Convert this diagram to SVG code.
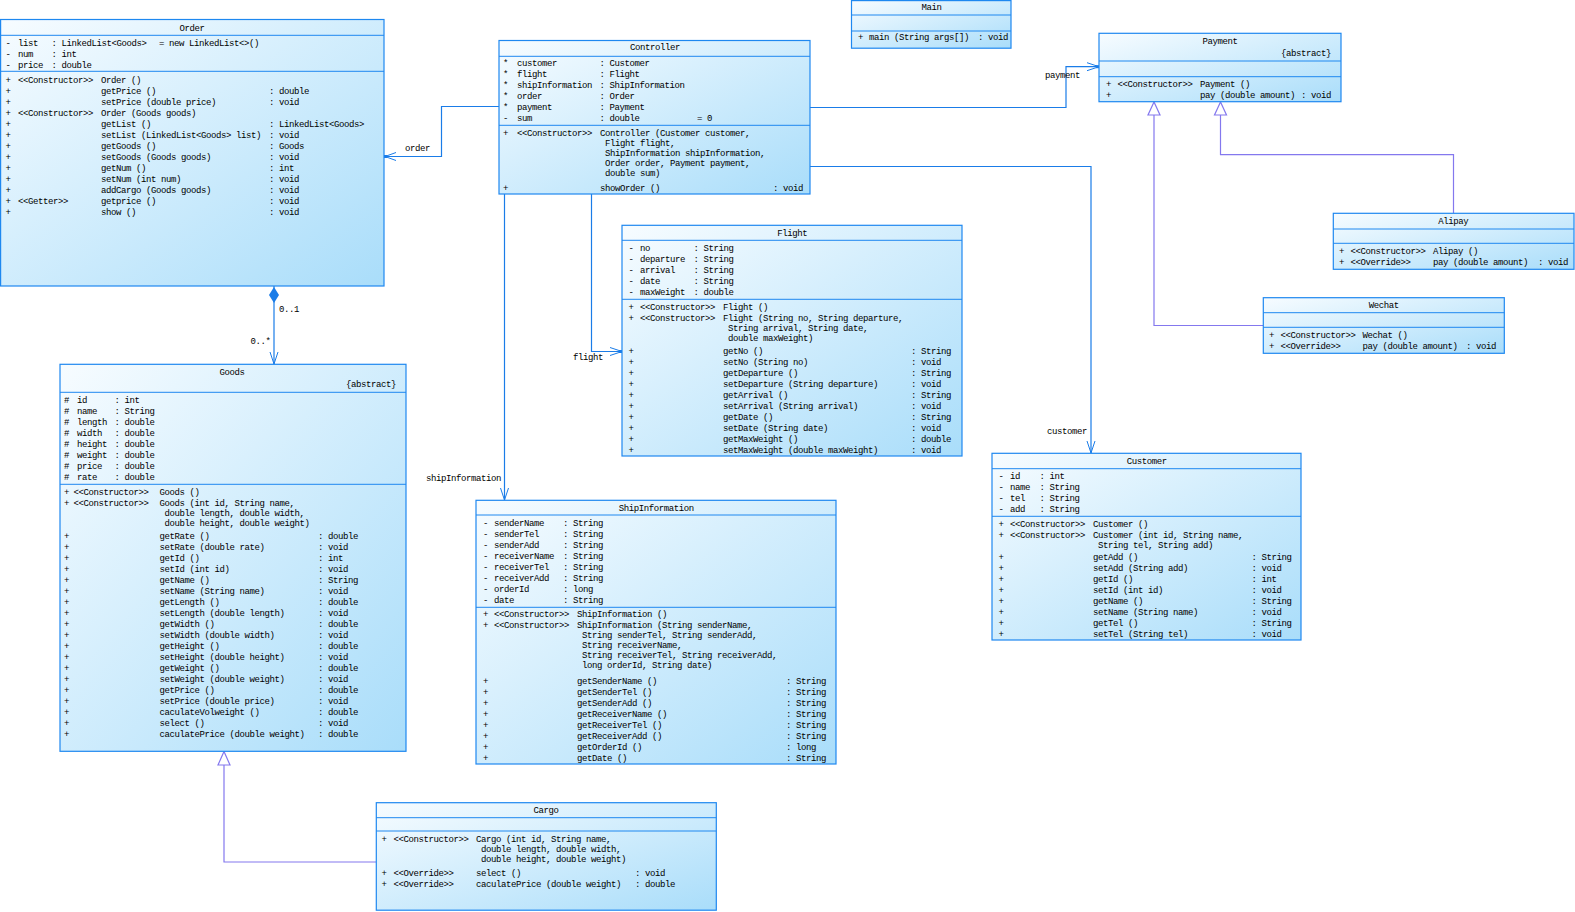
<svg xmlns="http://www.w3.org/2000/svg" width="1575" height="912" viewBox="0 0 1575 912">
<defs>
<linearGradient id="g" x1="0" y1="0" x2="1" y2="1">
<stop offset="0" stop-color="#f7fcff"/>
<stop offset="1" stop-color="#a9ddfa"/>
</linearGradient>
</defs>
<style>
text{font-family:"Liberation Mono","DejaVu Sans Mono",monospace;font-size:9px;letter-spacing:-0.4px;fill:#000}
.c{text-anchor:middle}
.e{text-anchor:end}
.box{stroke:#1e88f0;stroke-width:1.2;fill:url(#g)}
.sep{stroke:#1e88f0;stroke-width:1}
.as{stroke:#1a7ce8;stroke-width:1.2;fill:none}
.ah{stroke:#1a7ce8;stroke-width:1;fill:none}
.gen{stroke:#8478ee;stroke-width:1.2;fill:none}
.tri{stroke:#8478ee;stroke-width:1.2;fill:#fff}
.dot{fill:#1a7ce8}
</style>
<rect width="1575" height="912" fill="#fff"/>

<g id="connectors">
<polyline class="as" points="499,106.5 441.5,106.5 441.5,156.5 385,156.5"/>
<polyline class="ah" points="396,152.5 385,156.5 396,160.5"/>
<rect class="dot" x="384" y="155" width="3" height="3"/>
<text x="405" y="151">order</text>

<line class="as" x1="274" y1="286" x2="274" y2="364"/>
<polygon class="dot" points="274,287 279,295 274,303 269,295"/>
<polyline class="ah" points="270,352 274,364 278,352"/>
<text x="279" y="312">0..1</text>
<text x="250.5" y="344">0..*</text>

<polyline class="as" points="591.5,194 591.5,351.5 622,351.5"/>
<polyline class="ah" points="610,347.5 622,351.5 610,355.5"/>
<rect class="dot" x="619" y="350" width="3" height="3"/>
<text x="573" y="360">flight</text>

<line class="as" x1="504.5" y1="194" x2="504.5" y2="500"/>
<polyline class="ah" points="500.5,488 504.5,500 508.5,488"/>
<text x="426" y="481">shipInformation</text>

<polyline class="as" points="810,166.5 1091,166.5 1091,453"/>
<polyline class="ah" points="1087,441 1091,453 1095,441"/>
<text x="1047" y="434">customer</text>

<polyline class="as" points="810,107.5 1066,107.5 1066,66.7 1099,66.7"/>
<polyline class="ah" points="1087,62.7 1099,66.7 1087,70.7"/>
<rect class="dot" x="1096" y="65.2" width="3" height="3"/>
<text x="1045" y="78">payment</text>

<polyline class="gen" points="1453.5,213 1453.5,154.7 1220.5,154.7 1220.5,115"/>
<polygon class="tri" points="1220.5,102 1214.5,115 1226.5,115"/>
<polyline class="gen" points="1263,325.5 1154,325.5 1154,115"/>
<polygon class="tri" points="1154,102 1148,115 1160,115"/>
<polyline class="gen" points="376,862 224,862 224,765"/>
<polygon class="tri" points="224,751.5 218,765 230,765"/>
</g>

<g id="Order">
<rect class="box" x="0.6" y="19.5" width="383.4" height="266.5"/>
<line class="sep" x1="0.6" y1="35.3" x2="384" y2="35.3"/>
<line class="sep" x1="0.6" y1="71.3" x2="384" y2="71.3"/>
<text class="c" x="192" y="31">Order</text>
<text x="5.5" y="45.7">-</text><text x="18" y="45.7">list</text><text x="51.5" y="45.7">: LinkedList&lt;Goods&gt;</text><text x="159" y="45.7">= new LinkedList&lt;&gt;()</text>
<text x="5.5" y="56.7">-</text><text x="18" y="56.7">num</text><text x="51.5" y="56.7">: int</text>
<text x="5.5" y="67.7">-</text><text x="18" y="67.7">price</text><text x="51.5" y="67.7">: double</text>
<text x="5.5" y="82.7">+</text><text x="18" y="82.7">&lt;&lt;Constructor&gt;&gt;</text><text x="101" y="82.7">Order ()</text>
<text x="5.5" y="93.7">+</text><text x="101" y="93.7">getPrice ()</text><text x="269" y="93.7">: double</text>
<text x="5.5" y="104.7">+</text><text x="101" y="104.7">setPrice (double price)</text><text x="269" y="104.7">: void</text>
<text x="5.5" y="115.7">+</text><text x="18" y="115.7">&lt;&lt;Constructor&gt;&gt;</text><text x="101" y="115.7">Order (Goods goods)</text>
<text x="5.5" y="126.7">+</text><text x="101" y="126.7">getList ()</text><text x="269" y="126.7">: LinkedList&lt;Goods&gt;</text>
<text x="5.5" y="137.7">+</text><text x="101" y="137.7">setList (LinkedList&lt;Goods&gt; list)</text><text x="269" y="137.7">: void</text>
<text x="5.5" y="148.7">+</text><text x="101" y="148.7">getGoods ()</text><text x="269" y="148.7">: Goods</text>
<text x="5.5" y="159.7">+</text><text x="101" y="159.7">setGoods (Goods goods)</text><text x="269" y="159.7">: void</text>
<text x="5.5" y="170.7">+</text><text x="101" y="170.7">getNum ()</text><text x="269" y="170.7">: int</text>
<text x="5.5" y="181.7">+</text><text x="101" y="181.7">setNum (int num)</text><text x="269" y="181.7">: void</text>
<text x="5.5" y="192.7">+</text><text x="101" y="192.7">addCargo (Goods goods)</text><text x="269" y="192.7">: void</text>
<text x="5.5" y="203.7">+</text><text x="18" y="203.7">&lt;&lt;Getter&gt;&gt;</text><text x="101" y="203.7">getprice ()</text><text x="269" y="203.7">: void</text>
<text x="5.5" y="214.7">+</text><text x="101" y="214.7">show ()</text><text x="269" y="214.7">: void</text>
</g>

<g id="Controller">
<rect class="box" x="499" y="40.5" width="311" height="153.5"/>
<line class="sep" x1="499" y1="56.3" x2="810" y2="56.3"/>
<line class="sep" x1="499" y1="125.3" x2="810" y2="125.3"/>
<text class="c" x="655" y="50.3">Controller</text>
<text x="503" y="65.7">*</text><text x="517" y="65.7">customer</text><text x="599.5" y="65.7">: Customer</text>
<text x="503" y="76.7">*</text><text x="517" y="76.7">flight</text><text x="599.5" y="76.7">: Flight</text>
<text x="503" y="87.7">*</text><text x="517" y="87.7">shipInformation</text><text x="599.5" y="87.7">: ShipInformation</text>
<text x="503" y="98.7">*</text><text x="517" y="98.7">order</text><text x="599.5" y="98.7">: Order</text>
<text x="503" y="109.7">*</text><text x="517" y="109.7">payment</text><text x="599.5" y="109.7">: Payment</text>
<text x="503" y="120.7">-</text><text x="517" y="120.7">sum</text><text x="599.5" y="120.7">: double</text><text x="697" y="120.7">= 0</text>
<text x="503" y="136">+</text><text x="517" y="136">&lt;&lt;Constructor&gt;&gt;</text><text x="600" y="136">Controller (Customer customer,</text>
<text x="605" y="146">Flight flight,</text>
<text x="605" y="156">ShipInformation shipInformation,</text>
<text x="605" y="166">Order order, Payment payment,</text>
<text x="605" y="176">double sum)</text>
<text x="503" y="191">+</text><text x="600" y="191">showOrder ()</text><text x="773" y="191">: void</text>
</g>

<g id="Main">
<rect class="box" x="851.5" y="0.6" width="159.5" height="47.6"/>
<line class="sep" x1="851.5" y1="15" x2="1011" y2="15"/>
<line class="sep" x1="851.5" y1="31" x2="1011" y2="31"/>
<text class="c" x="931.5" y="10.3">Main</text>
<text x="858" y="40.3">+</text><text x="869" y="40.3">main (String args[])</text><text x="978" y="40.3">: void</text>
</g>

<g id="Payment">
<rect class="box" x="1099" y="33.3" width="242" height="68.4"/>
<line class="sep" x1="1099" y1="61" x2="1341" y2="61"/>
<line class="sep" x1="1099" y1="76.7" x2="1341" y2="76.7"/>
<text class="c" x="1220" y="43.7">Payment</text>
<text class="e" x="1331" y="56.3">{abstract}</text>
<text x="1106" y="86.7">+</text><text x="1117.5" y="86.7">&lt;&lt;Constructor&gt;&gt;</text><text x="1200" y="86.7">Payment ()</text>
<text x="1106" y="97.7">+</text><text x="1200" y="97.7">pay (double amount)</text><text x="1301" y="97.7">: void</text>
</g>

<g id="Alipay">
<rect class="box" x="1333.3" y="213.3" width="240.7" height="56"/>
<line class="sep" x1="1333.3" y1="229" x2="1574" y2="229"/>
<line class="sep" x1="1333.3" y1="243.3" x2="1574" y2="243.3"/>
<text class="c" x="1453.3" y="223.7">Alipay</text>
<text x="1339" y="254">+</text><text x="1350.5" y="254">&lt;&lt;Constructor&gt;&gt;</text><text x="1433" y="254">Alipay ()</text>
<text x="1339" y="265">+</text><text x="1350.5" y="265">&lt;&lt;Override&gt;&gt;</text><text x="1433" y="265">pay (double amount)</text><text x="1538" y="265">: void</text>
</g>

<g id="Wechat">
<rect class="box" x="1263.3" y="297.7" width="241" height="55.6"/>
<line class="sep" x1="1263.3" y1="312.7" x2="1504.3" y2="312.7"/>
<line class="sep" x1="1263.3" y1="327.3" x2="1504.3" y2="327.3"/>
<text class="c" x="1383.7" y="308">Wechat</text>
<text x="1269" y="338">+</text><text x="1280.5" y="338">&lt;&lt;Constructor&gt;&gt;</text><text x="1362.5" y="338">Wechat ()</text>
<text x="1269" y="349">+</text><text x="1280.5" y="349">&lt;&lt;Override&gt;&gt;</text><text x="1362.5" y="349">pay (double amount)</text><text x="1466" y="349">: void</text>
</g>

<g id="Flight">
<rect class="box" x="622" y="225.3" width="340" height="230.7"/>
<line class="sep" x1="622" y1="240.3" x2="962" y2="240.3"/>
<line class="sep" x1="622" y1="299.3" x2="962" y2="299.3"/>
<text class="c" x="792.3" y="235.7">Flight</text>
<text x="628.5" y="250.7">-</text><text x="640" y="250.7">no</text><text x="693.5" y="250.7">: String</text>
<text x="628.5" y="261.7">-</text><text x="640" y="261.7">departure</text><text x="693.5" y="261.7">: String</text>
<text x="628.5" y="272.7">-</text><text x="640" y="272.7">arrival</text><text x="693.5" y="272.7">: String</text>
<text x="628.5" y="283.7">-</text><text x="640" y="283.7">date</text><text x="693.5" y="283.7">: String</text>
<text x="628.5" y="294.7">-</text><text x="640" y="294.7">maxWeight</text><text x="693.5" y="294.7">: double</text>
<text x="628.5" y="309.7">+</text><text x="640" y="309.7">&lt;&lt;Constructor&gt;&gt;</text><text x="723" y="309.7">Flight ()</text>
<text x="628.5" y="320.7">+</text><text x="640" y="320.7">&lt;&lt;Constructor&gt;&gt;</text><text x="723" y="320.7">Flight (String no, String departure,</text>
<text x="728" y="331">String arrival, String date,</text>
<text x="728" y="341">double maxWeight)</text>
<text x="628.5" y="353.7">+</text><text x="723" y="353.7">getNo ()</text><text x="911" y="353.7">: String</text>
<text x="628.5" y="364.7">+</text><text x="723" y="364.7">setNo (String no)</text><text x="911" y="364.7">: void</text>
<text x="628.5" y="375.7">+</text><text x="723" y="375.7">getDeparture ()</text><text x="911" y="375.7">: String</text>
<text x="628.5" y="386.7">+</text><text x="723" y="386.7">setDeparture (String departure)</text><text x="911" y="386.7">: void</text>
<text x="628.5" y="397.7">+</text><text x="723" y="397.7">getArrival ()</text><text x="911" y="397.7">: String</text>
<text x="628.5" y="408.7">+</text><text x="723" y="408.7">setArrival (String arrival)</text><text x="911" y="408.7">: void</text>
<text x="628.5" y="419.7">+</text><text x="723" y="419.7">getDate ()</text><text x="911" y="419.7">: String</text>
<text x="628.5" y="430.7">+</text><text x="723" y="430.7">setDate (String date)</text><text x="911" y="430.7">: void</text>
<text x="628.5" y="441.7">+</text><text x="723" y="441.7">getMaxWeight ()</text><text x="911" y="441.7">: double</text>
<text x="628.5" y="452.7">+</text><text x="723" y="452.7">setMaxWeight (double maxWeight)</text><text x="911" y="452.7">: void</text>
</g>

<g id="ShipInformation">
<rect class="box" x="476" y="500.3" width="360" height="263.7"/>
<line class="sep" x1="476" y1="515" x2="836" y2="515"/>
<line class="sep" x1="476" y1="607.3" x2="836" y2="607.3"/>
<text class="c" x="656.3" y="510.7">ShipInformation</text>
<text x="483" y="525.7">-</text><text x="494" y="525.7">senderName</text><text x="563" y="525.7">: String</text>
<text x="483" y="536.7">-</text><text x="494" y="536.7">senderTel</text><text x="563" y="536.7">: String</text>
<text x="483" y="547.7">-</text><text x="494" y="547.7">senderAdd</text><text x="563" y="547.7">: String</text>
<text x="483" y="558.7">-</text><text x="494" y="558.7">receiverName</text><text x="563" y="558.7">: String</text>
<text x="483" y="569.7">-</text><text x="494" y="569.7">receiverTel</text><text x="563" y="569.7">: String</text>
<text x="483" y="580.7">-</text><text x="494" y="580.7">receiverAdd</text><text x="563" y="580.7">: String</text>
<text x="483" y="591.7">-</text><text x="494" y="591.7">orderId</text><text x="563" y="591.7">: long</text>
<text x="483" y="602.7">-</text><text x="494" y="602.7">date</text><text x="563" y="602.7">: String</text>
<text x="483" y="617.3">+</text><text x="494" y="617.3">&lt;&lt;Constructor&gt;&gt;</text><text x="577" y="617.3">ShipInformation ()</text>
<text x="483" y="628.3">+</text><text x="494" y="628.3">&lt;&lt;Constructor&gt;&gt;</text><text x="577" y="628.3">ShipInformation (String senderName,</text>
<text x="582" y="638.3">String senderTel, String senderAdd,</text>
<text x="582" y="648.3">String receiverName,</text>
<text x="582" y="658.3">String receiverTel, String receiverAdd,</text>
<text x="582" y="668.3">long orderId, String date)</text>
<text x="483" y="683.7">+</text><text x="577" y="683.7">getSenderName ()</text><text x="786" y="683.7">: String</text>
<text x="483" y="694.7">+</text><text x="577" y="694.7">getSenderTel ()</text><text x="786" y="694.7">: String</text>
<text x="483" y="705.7">+</text><text x="577" y="705.7">getSenderAdd ()</text><text x="786" y="705.7">: String</text>
<text x="483" y="716.7">+</text><text x="577" y="716.7">getReceiverName ()</text><text x="786" y="716.7">: String</text>
<text x="483" y="727.7">+</text><text x="577" y="727.7">getReceiverTel ()</text><text x="786" y="727.7">: String</text>
<text x="483" y="738.7">+</text><text x="577" y="738.7">getReceiverAdd ()</text><text x="786" y="738.7">: String</text>
<text x="483" y="749.7">+</text><text x="577" y="749.7">getOrderId ()</text><text x="786" y="749.7">: long</text>
<text x="483" y="760.7">+</text><text x="577" y="760.7">getDate ()</text><text x="786" y="760.7">: String</text>
</g>

<g id="Customer">
<rect class="box" x="992" y="453.3" width="309" height="186.7"/>
<line class="sep" x1="992" y1="468.7" x2="1301" y2="468.7"/>
<line class="sep" x1="992" y1="516.3" x2="1301" y2="516.3"/>
<text class="c" x="1146.7" y="463.7">Customer</text>
<text x="998.5" y="478.7">-</text><text x="1010" y="478.7">id</text><text x="1039.5" y="478.7">: int</text>
<text x="998.5" y="489.7">-</text><text x="1010" y="489.7">name</text><text x="1039.5" y="489.7">: String</text>
<text x="998.5" y="500.7">-</text><text x="1010" y="500.7">tel</text><text x="1039.5" y="500.7">: String</text>
<text x="998.5" y="511.7">-</text><text x="1010" y="511.7">add</text><text x="1039.5" y="511.7">: String</text>
<text x="998.5" y="526.7">+</text><text x="1010" y="526.7">&lt;&lt;Constructor&gt;&gt;</text><text x="1093" y="526.7">Customer ()</text>
<text x="998.5" y="537.7">+</text><text x="1010" y="537.7">&lt;&lt;Constructor&gt;&gt;</text><text x="1093" y="537.7">Customer (int id, String name,</text>
<text x="1098" y="547.7">String tel, String add)</text>
<text x="998.5" y="559.7">+</text><text x="1093" y="559.7">getAdd ()</text><text x="1251.5" y="559.7">: String</text>
<text x="998.5" y="570.7">+</text><text x="1093" y="570.7">setAdd (String add)</text><text x="1251.5" y="570.7">: void</text>
<text x="998.5" y="581.7">+</text><text x="1093" y="581.7">getId ()</text><text x="1251.5" y="581.7">: int</text>
<text x="998.5" y="592.7">+</text><text x="1093" y="592.7">setId (int id)</text><text x="1251.5" y="592.7">: void</text>
<text x="998.5" y="603.7">+</text><text x="1093" y="603.7">getName ()</text><text x="1251.5" y="603.7">: String</text>
<text x="998.5" y="614.7">+</text><text x="1093" y="614.7">setName (String name)</text><text x="1251.5" y="614.7">: void</text>
<text x="998.5" y="625.7">+</text><text x="1093" y="625.7">getTel ()</text><text x="1251.5" y="625.7">: String</text>
<text x="998.5" y="636.7">+</text><text x="1093" y="636.7">setTel (String tel)</text><text x="1251.5" y="636.7">: void</text>
</g>

<g id="Goods">
<rect class="box" x="60" y="364.3" width="346" height="387"/>
<line class="sep" x1="60" y1="392.3" x2="406" y2="392.3"/>
<line class="sep" x1="60" y1="484.3" x2="406" y2="484.3"/>
<text class="c" x="232" y="374.7">Goods</text>
<text class="e" x="396" y="387.3">{abstract}</text>
<text x="64" y="402.7">#</text><text x="77" y="402.7">id</text><text x="114.5" y="402.7">: int</text>
<text x="64" y="413.7">#</text><text x="77" y="413.7">name</text><text x="114.5" y="413.7">: String</text>
<text x="64" y="424.7">#</text><text x="77" y="424.7">length</text><text x="114.5" y="424.7">: double</text>
<text x="64" y="435.7">#</text><text x="77" y="435.7">width</text><text x="114.5" y="435.7">: double</text>
<text x="64" y="446.7">#</text><text x="77" y="446.7">height</text><text x="114.5" y="446.7">: double</text>
<text x="64" y="457.7">#</text><text x="77" y="457.7">weight</text><text x="114.5" y="457.7">: double</text>
<text x="64" y="468.7">#</text><text x="77" y="468.7">price</text><text x="114.5" y="468.7">: double</text>
<text x="64" y="479.7">#</text><text x="77" y="479.7">rate</text><text x="114.5" y="479.7">: double</text>
<text x="64" y="494.7">+</text><text x="73.5" y="494.7">&lt;&lt;Constructor&gt;&gt;</text><text x="159.5" y="494.7">Goods ()</text>
<text x="64" y="505.7">+</text><text x="73.5" y="505.7">&lt;&lt;Constructor&gt;&gt;</text><text x="159.5" y="505.7">Goods (int id, String name,</text>
<text x="164.5" y="515.7">double length, double width,</text>
<text x="164.5" y="525.7">double height, double weight)</text>
<text x="64" y="538.7">+</text><text x="159.5" y="538.7">getRate ()</text><text x="318" y="538.7">: double</text>
<text x="64" y="549.7">+</text><text x="159.5" y="549.7">setRate (double rate)</text><text x="318" y="549.7">: void</text>
<text x="64" y="560.7">+</text><text x="159.5" y="560.7">getId ()</text><text x="318" y="560.7">: int</text>
<text x="64" y="571.7">+</text><text x="159.5" y="571.7">setId (int id)</text><text x="318" y="571.7">: void</text>
<text x="64" y="582.7">+</text><text x="159.5" y="582.7">getName ()</text><text x="318" y="582.7">: String</text>
<text x="64" y="593.7">+</text><text x="159.5" y="593.7">setName (String name)</text><text x="318" y="593.7">: void</text>
<text x="64" y="604.7">+</text><text x="159.5" y="604.7">getLength ()</text><text x="318" y="604.7">: double</text>
<text x="64" y="615.7">+</text><text x="159.5" y="615.7">setLength (double length)</text><text x="318" y="615.7">: void</text>
<text x="64" y="626.7">+</text><text x="159.5" y="626.7">getWidth ()</text><text x="318" y="626.7">: double</text>
<text x="64" y="637.7">+</text><text x="159.5" y="637.7">setWidth (double width)</text><text x="318" y="637.7">: void</text>
<text x="64" y="648.7">+</text><text x="159.5" y="648.7">getHeight ()</text><text x="318" y="648.7">: double</text>
<text x="64" y="659.7">+</text><text x="159.5" y="659.7">setHeight (double height)</text><text x="318" y="659.7">: void</text>
<text x="64" y="670.7">+</text><text x="159.5" y="670.7">getWeight ()</text><text x="318" y="670.7">: double</text>
<text x="64" y="681.7">+</text><text x="159.5" y="681.7">setWeight (double weight)</text><text x="318" y="681.7">: void</text>
<text x="64" y="692.7">+</text><text x="159.5" y="692.7">getPrice ()</text><text x="318" y="692.7">: double</text>
<text x="64" y="703.7">+</text><text x="159.5" y="703.7">setPrice (double price)</text><text x="318" y="703.7">: void</text>
<text x="64" y="714.7">+</text><text x="159.5" y="714.7">caculateVolweight ()</text><text x="318" y="714.7">: double</text>
<text x="64" y="725.7">+</text><text x="159.5" y="725.7">select ()</text><text x="318" y="725.7">: void</text>
<text x="64" y="736.7">+</text><text x="159.5" y="736.7">caculatePrice (double weight)</text><text x="318" y="736.7">: double</text>
</g>

<g id="Cargo">
<rect class="box" x="376.3" y="802.7" width="340" height="107.5"/>
<line class="sep" x1="376.3" y1="817.7" x2="716.3" y2="817.7"/>
<line class="sep" x1="376.3" y1="831" x2="716.3" y2="831"/>
<text class="c" x="546" y="813">Cargo</text>
<text x="381.5" y="842.3">+</text><text x="393.5" y="842.3">&lt;&lt;Constructor&gt;&gt;</text><text x="476" y="842.3">Cargo (int id, String name,</text>
<text x="481" y="852.3">double length, double width,</text>
<text x="481" y="862.3">double height, double weight)</text>
<text x="381.5" y="875.7">+</text><text x="393.5" y="875.7">&lt;&lt;Override&gt;&gt;</text><text x="476" y="875.7">select ()</text><text x="635" y="875.7">: void</text>
<text x="381.5" y="886.7">+</text><text x="393.5" y="886.7">&lt;&lt;Override&gt;&gt;</text><text x="476" y="886.7">caculatePrice (double weight)</text><text x="635" y="886.7">: double</text>
</g>
</svg>
